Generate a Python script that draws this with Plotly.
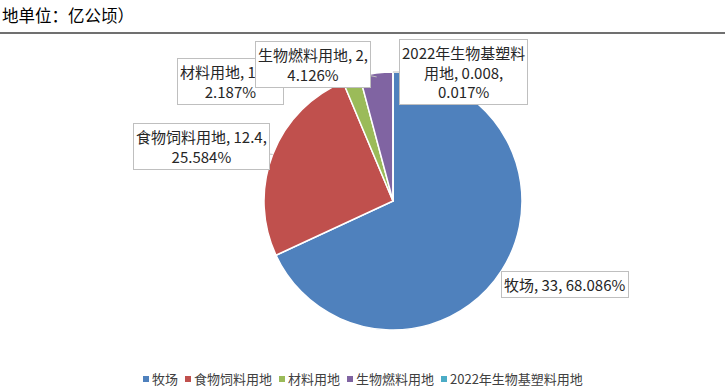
import math
import plotly.graph_objects as go

labels = ["牧场", "食物饲料用地", "材料用地", "生物燃料用地", "2022年生物基塑料用地"]
values = [33, 12.4, 1.06, 2, 0.008]
value_text = ["33", "12.4", "1.06", "2", "0.008"]
colors = ["#4F81BD", "#C0504D", "#9BBB59", "#8064A2", "#4BACC6"]
title_text = "地单位：亿公顷）"

W, H = 725, 389
CX, CY, R = 393, 201, 129
FONT = "Noto Sans CJK SC, Microsoft YaHei, sans-serif"

fig = go.Figure(go.Pie(
    labels=labels, values=values, sort=False, direction="clockwise", rotation=0,
    marker=dict(colors=colors, line=dict(color="white", width=1.5)),
    textinfo="none", hoverinfo="label+value+percent",
    domain=dict(x=[(CX - R) / W, (CX + R) / W], y=[1 - (CY + R) / H, 1 - (CY - R) / H]),
    showlegend=False,
))

total = sum(values)
pcts = [v / total * 100 for v in values]

label_lines = [
    f"{labels[0]}, {value_text[0]}, {pcts[0]:.3f}%",
    f"{labels[1]}, {value_text[1]},<br>{pcts[1]:.3f}%",
    f"{labels[2]}, {value_text[2]},<br>{pcts[2]:.3f}%",
    f"{labels[3]}, {value_text[3]},<br>{pcts[3]:.3f}%",
    f"2022年生物基塑料<br>用地, {value_text[4]},<br>{pcts[4]:.3f}%",
]
box_centres = [(565, 284), (201, 146), (230, 81), (313, 64), (463, 72)]
show_arrow = [False, True, True, True, True]
radius_frac = [0.9, 1.0, 0.97, 0.97, 1.0]

cum = 0.0
for i, v in enumerate(values):
    mid = (cum + v / 2) / total
    cum += v
    ang = 2 * math.pi * mid
    rr = R * radius_frac[i]
    px = CX + rr * math.sin(ang)
    py = CY - rr * math.cos(ang)
    bx, by = box_centres[i]
    common = dict(xref="paper", yref="paper", text=label_lines[i], bgcolor="white",
                  bordercolor="#BFBFBF", borderwidth=1, borderpad=2,
                  xanchor="center", yanchor="middle",
                  font=dict(family=FONT, size=15, color="#262626"))
    if show_arrow[i]:
        fig.add_annotation(x=px / W, y=1 - py / H, ax=bx - px, ay=by - py,
                           axref="pixel", ayref="pixel", showarrow=True, arrowhead=0,
                           arrowwidth=1, arrowcolor="#BFBFBF", **common)
    else:
        fig.add_annotation(x=bx / W, y=1 - by / H, showarrow=False, **common)

# title and rule
fig.add_annotation(
    x=0, y=1 - 15 / H, xref="paper", yref="paper", xanchor="left", yanchor="middle",
    text=title_text, showarrow=False, font=dict(family=FONT, size=16.5, color="#000000"),
)
fig.add_shape(type="line", xref="paper", yref="paper", x0=0, x1=1,
              y0=1 - 33 / H, y1=1 - 33 / H, line=dict(color="#404040", width=1.5))

# compact legend: small squares + text, laid out left to right
LEG_FS = 13
LEG_Y = 378.5


def text_width(s, fs=LEG_FS):
    w = 0.0
    for ch in s:
        w += fs * (0.56 if ord(ch) < 128 else 1.0)
    return w


x = 143
for lab, c in zip(labels, colors):
    fig.add_shape(type="rect", xref="paper", yref="paper",
                  x0=x / W, x1=(x + 6) / W, y0=1 - (LEG_Y + 3.5) / H, y1=1 - (LEG_Y - 2.5) / H,
                  fillcolor=c, line=dict(width=0))
    fig.add_annotation(x=(x + 8) / W, y=1 - LEG_Y / H, xref="paper", yref="paper",
                       xanchor="left", yanchor="middle", text=lab, showarrow=False,
                       borderpad=0, font=dict(family=FONT, size=LEG_FS, color="#404040"))
    x = x + 9 + text_width(lab) + 7

fig.update_layout(
    width=W, height=H, margin=dict(l=0, r=0, t=0, b=0, autoexpand=False),
    paper_bgcolor="white", plot_bgcolor="white", showlegend=False,
)

fig.write_html("out.html", config={"displayModeBar": False},
               post_script="document.body.style.margin='0';document.body.style.overflow='hidden';")
